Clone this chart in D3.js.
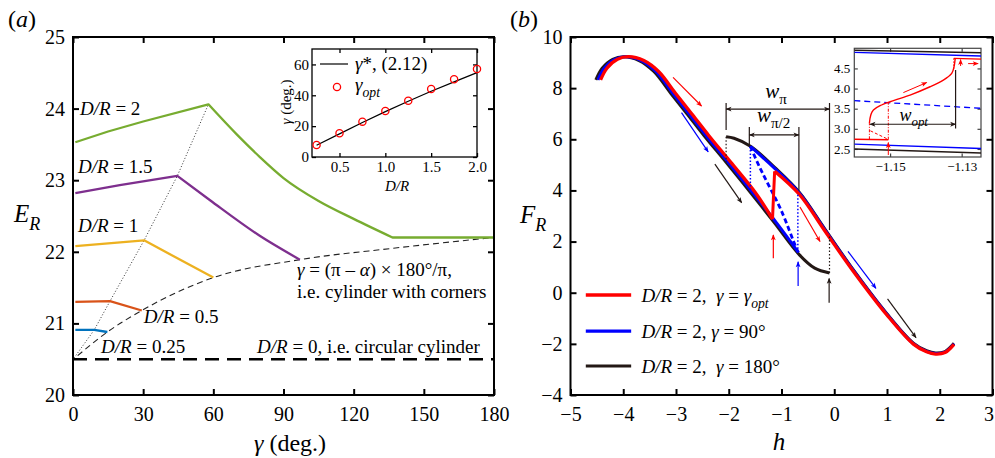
<!DOCTYPE html>
<html>
<head>
  <meta charset='utf-8'>
  <title>E_R versus gamma, F_R versus h</title>
  <script src='https://cdn.jsdelivr.net/npm/d3@7/dist/d3.min.js'></script>
  <style>
    body { margin: 0; background: #fff; }
    svg text { font-family: 'Liberation Serif', 'Times New Roman', 'DejaVu Serif', serif; fill: #000; }
  </style>
</head>
<body>
<svg id='chart' width='995' height='458'></svg>
<script>
// ---------- panel (a) data ----------
const gammaTicks = [0, 30, 60, 90, 120, 150, 180];
const erTicks = [20, 21, 22, 23, 24, 25];
const gam025 = [1, 9.1, 14.7];
const er025 = [20.91, 20.91, 20.88];
const gam05 = [1, 15.8, 29.4];
const er05 = [21.30, 21.31, 21.18];
const gam1 = [1, 30.4, 60];
const er1 = [22.08, 22.16, 21.64];
const gam15 = [1, 20, 44.6, 58.6, 80, 97];
const er15 = [22.82, 22.93, 23.06, 22.72, 22.22, 21.89];
const gam2 = [1, 15, 30, 57.9, 70, 80, 90, 105, 120, 136.6, 180];
const er2 = [23.53, 23.68, 23.82, 24.06, 23.64, 23.32, 23.03, 22.71, 22.46, 22.2, 22.2];
// index of the peak and of the start of the plateau for each D/R
const peakIdx = [1, 1, 1, 2, 3];
const plateauIdx = [null, null, null, null, 9];
const gamPeak = [0.5, 9.1, 15.8, 30.4, 44.6, 57.9];
const erPeak = [20.52, 20.91, 21.31, 22.16, 23.06, 24.06];
const gamCorner = [2, 14.7, 29.4, 60, 97, 137, 180];
const erCorner = [20.55, 20.88, 21.18, 21.64, 21.89, 22.05, 22.2];
const erCircle = 20.5;

// inset of (a)
const dOverR = [0.25, 0.5, 0.75, 1.0, 1.25, 1.5, 1.75, 2.0];
const gammaOpt = [7.8, 15.4, 22.9, 29.8, 36.5, 44.1, 50.4, 57.0];
const gammaStar = [7.6, 15.0, 22.4, 29.4, 36.1, 42.6, 48.7, 54.7];
const insetATicksX = [0.5, 1.0, 1.5, 2.0];
const insetATicksY = [0, 20, 40, 60];

// ---------- panel (b) data ----------
const hTicks = [-5, -4, -3, -2, -1, 0, 1, 2, 3];
const frTicks = [-4, -2, 0, 2, 4, 6, 8, 10];
const blackLowH = [-4.52, -4.4, -4.2, -3.99, -3.7, -3.42, -3.1, -2.8, -2.47, -2.05, -1.58, -1.13, -0.66, -0.37, -0.09];
const blackLowF = [8.32, 8.78, 9.13, 9.23, 9.08, 8.65, 7.8, 7.02, 6.15, 5.1, 3.9, 2.72, 1.48, 0.96, 0.77];
const blackUpH = [-2.05, -1.9, -1.58, -1.13, -0.66, -0.19, 0.36, 0.99, 1.5, 1.75, 1.92, 2.1, 2.27];
const blackUpF = [6.1, 6.04, 5.72, 4.9, 3.92, 2.53, 0.9, -0.8, -1.97, -2.27, -2.36, -2.3, -1.98];
const blueLowH = [-4.48, -4.36, -4.16, -3.95, -3.66, -3.38, -3.06, -2.76, -2.43, -2.01, -1.54, -1.09, -0.68];
const blueLowF = [8.32, 8.78, 9.13, 9.23, 9.08, 8.65, 7.8, 7.02, 6.15, 5.1, 3.9, 2.72, 1.58];
const blueUpH = [-1.59, -1.13, -0.66, -0.19, 0.36, 0.99, 1.5, 1.75, 1.92, 2.1, 2.27];
const blueUpF = [5.72, 4.86, 3.89, 2.5, 0.88, -0.82, -1.99, -2.29, -2.38, -2.32, -2.0];
const blueDashH = [-1.59, -1.42, -1.23, -1.01, -0.72, -0.68];
const blueDashF = [5.72, 4.93, 4.15, 3.24, 1.75, 1.58];
const redLowH = [-4.43, -4.31, -4.11, -3.9, -3.61, -3.33, -3.01, -2.71, -2.38, -1.96, -1.49, -1.17];
const redLowF = [8.32, 8.78, 9.13, 9.23, 9.08, 8.65, 7.8, 7.02, 6.15, 5.1, 3.9, 2.88];
const redJumpH = [-1.17, -1.165, -1.13];
const redJumpF = [2.88, 3.15, 4.75];
const redUpH = [-1.13, -0.66, -0.19, 0.36, 0.99, 1.5, 1.75, 1.92, 2.1, 2.27];
const redUpF = [4.75, 3.84, 2.45, 0.84, -0.85, -2.01, -2.31, -2.4, -2.34, -2.02];
// dotted jumps [h, F from, F to]
const blackJumps = [[-2.05, 6.1, 5.1], [-0.09, 0.77, 2.2]];
const blueJumps = [[-1.59, 5.72, 3.95], [-0.69, 1.58, 3.9]];
// widths: [h left, h right, F arrow, F top, left foot, right foot]
const wPi = [-2.05, -0.09, 7.18, 7.42, 6.36, 2.45];
const wPi2 = [-1.61, -0.67, 6.17, 6.48, 5.75, 4.0];
const arrowsB = [
  ['red', [-3.056, -2.516], [8.42, 7.30]],
  ['blue', [-2.896, -2.390], [7.04, 5.51]],
  ['black', [-2.263, -1.756], [5.03, 3.52]],
  ['red', [-0.65, -0.27], [3.35, 2.0]],
  ['blue', [0.26, 0.79], [1.62, 0.17]],
  ['black', [1.01, 1.55], [-0.24, -1.76]],
  ['red', [-1.155, -1.155], [1.35, 2.26]],
  ['blue', [-0.685, -0.685], [0.26, 1.21]],
  ['black', [-0.097, -0.097], [-0.39, 0.56]]
];

// inset of (b)
const insetBTicksX = [-1.15, -1.13];
const insetBTicksY = [2.5, 3.0, 3.5, 4.0, 4.5];
const inEdgeH = [-1.16, -1.1246];
const inBlackTop = [4.95, 4.89];
const inBlueTop = [4.90, 4.81];
const inBlackBot = [2.50, 2.40];
const inBlueBot = [2.62, 2.51];
const inBlueDash = [3.70, 3.51];
const inRedLowH = [-1.16, -1.1505];
const inRedLowF = [2.74, 2.73];
const inRedSH = [-1.15578, -1.15539, -1.15466, -1.15279, -1.15, -1.14442, -1.13884, -1.13512, -1.13278, -1.13214, -1.13186, -1.1318];
const inRedSF = [3.139, 3.344, 3.468, 3.574, 3.673, 3.839, 4.045, 4.21, 4.376, 4.54, 4.705, 4.75];
const inRedTopH = [-1.1322, -1.1246];
const inRedTopF = [4.75, 4.73];
const inArrows = [
  [[-1.1505, -1.1505], [2.35, 2.66]],
  [[-1.1303, -1.1303], [4.56, 4.72]],
  [[-1.1282, -1.1254], [4.62, 4.62]],
  [[-1.14629, -1.13976], [3.90, 4.15]]
];
const wOpt = [-1.1556, -1.1317, 3.114, 4.46];

// ---------- helpers ----------
const svg = d3.select('#chart');
const colA = ['#0072bd', '#d95319', '#edb120', '#7e2f8e', '#77ac30'];
const RED = '#ff0000', BLUE = '#0000ff', DARK = '#231815';
const arrowCol = {red: RED, blue: BLUE, black: DARK};

const defs = svg.append('defs');
Object.entries(arrowCol).forEach(([k, c]) => {
  defs.append('marker').attr('id', 'ah-' + k)
    .attr('viewBox', '0 0 10 10').attr('refX', 9).attr('refY', 5)
    .attr('markerWidth', 8).attr('markerHeight', 6)
    .attr('markerUnits', 'userSpaceOnUse').attr('orient', 'auto-start-reverse')
    .append('path').attr('d', 'M0,1 L10,5 L0,9 L2.5,5 Z').attr('fill', c);
});

function zip(a, b) { return a.map((v, i) => [v, b[i]]); }

function drawLine(g, xs, ys, x, y, curve) {
  return g.append('path').datum(zip(xs, ys))
    .attr('fill', 'none').attr('stroke-linejoin', 'round')
    .attr('d', d3.line().x(d => x(d[0])).y(d => y(d[1])).curve(curve || d3.curveLinear));
}

function drawAxes(x, y, o) {
  const g = svg.append('g');
  const [xl, xr] = x.range(), [yb, yt] = y.range();
  if (o.bg) g.append('rect').attr('x', xl).attr('y', yt).attr('width', xr - xl)
    .attr('height', yb - yt).attr('fill', '#fff');
  g.append('g').attr('class', 'xb').attr('transform', `translate(0,${yb})`)
    .call(d3.axisBottom(x).tickValues(o.xt).tickSize(-o.len).tickPadding(o.xpad).tickFormat(o.xf));
  g.append('g').attr('transform', `translate(0,${yt})`)
    .call(d3.axisTop(x).tickValues(o.xt).tickSize(-o.len).tickFormat(''));
  g.append('g').attr('transform', `translate(${xl},0)`)
    .call(d3.axisLeft(y).tickValues(o.yt).tickSize(-o.len).tickPadding(o.ypad).tickFormat(o.yf));
  g.append('g').attr('transform', `translate(${xr},0)`)
    .call(d3.axisRight(y).tickValues(o.yt).tickSize(-o.len).tickFormat(''));
  g.selectAll('.domain').remove();
  g.selectAll('.tick line').attr('stroke', o.col || '#000').attr('stroke-width', o.sw);
  g.selectAll('.tick text').attr('font-size', o.fs)
    .attr('font-family', "'Liberation Serif', 'Times New Roman', serif").attr('fill', '#000');
  g.append('rect').attr('x', xl).attr('y', yt).attr('width', xr - xl).attr('height', yb - yt)
    .attr('fill', 'none').attr('stroke', o.col || '#000').attr('stroke-width', o.sw);
  return g;
}

// rich text: parts = [[string, 'i' | 'sub' | 'isub' | '']]
function rich(g, x, y, parts, size, anchor) {
  const t = g.append('text').attr('x', x).attr('y', y).attr('font-size', size)
    .attr('text-anchor', anchor || 'start').style('white-space', 'pre');
  let shift = 0;
  parts.forEach(([s, k]) => {
    k = k || '';
    const sub = k.includes('sub');
    const target = sub ? size * 0.3 : 0;
    const ts = t.append('tspan').text(s).attr('dy', target - shift);
    shift = target;
    if (k.includes('i')) ts.attr('font-style', 'italic');
    if (sub) ts.attr('font-size', size * 0.72);
  });
  return t;
}

// ---------- panel (a) ----------
const xA = d3.scaleLinear().domain([0, 180]).range([73, 494]);
const yA = d3.scaleLinear().domain([20, 25]).range([395, 37]);
const gA = svg.append('g');

drawLine(gA, [0, 180], [erCircle, erCircle], xA, yA)
  .attr('stroke', '#000').attr('stroke-width', 2.6).attr('stroke-dasharray', '14,8');
drawLine(gA, gamPeak, erPeak, xA, yA)
  .attr('stroke', '#333').attr('stroke-width', 1).attr('stroke-dasharray', '1,2');
drawLine(gA, gamCorner, erCorner, xA, yA, d3.curveMonotoneX)
  .attr('stroke', '#222').attr('stroke-width', 1.1).attr('stroke-dasharray', '6,4');
[[gam025, er025], [gam05, er05], [gam1, er1], [gam15, er15], [gam2, er2]].forEach(([gs, es], i) => {
  // rising part straight, falling part smooth, plateau straight
  const p = peakIdx[i], q = plateauIdx[i] === null ? gs.length - 1 : plateauIdx[i];
  const line = d3.line().x(d => xA(d[0])).y(d => yA(d[1]));
  const pts = zip(gs, es);
  const d = line.curve(d3.curveLinear)(pts.slice(0, p + 1)) +
    line.curve(d3.curveMonotoneX)(pts.slice(p, q + 1)).replace(/^M/, 'L') +
    (q < gs.length - 1 ? line.curve(d3.curveLinear)(pts.slice(q)).replace(/^M/, 'L') : '');
  gA.append('path').attr('d', d).attr('fill', 'none').attr('stroke', colA[i])
    .attr('stroke-width', 2.3).attr('stroke-linejoin', 'round');
});

drawAxes(xA, yA, {xt: gammaTicks, yt: erTicks, len: 6, xpad: 12, ypad: 8, fs: 20, sw: 2,
  xf: d3.format('d'), yf: d3.format('d')});

const labelsA = [['2', 3.0, 23.91], ['1.5', 2.1, 23.10], ['1', 2.1, 22.28], ['0.5', 30.3, 21.0], ['0.25', 12.0, 20.59]];
labelsA.forEach(([v, g, e]) => {
  rich(gA, xA(g), yA(e), [['D/R', 'i'], [' = ' + v, '']], 19);
});
rich(gA, xA(78.7), yA(20.59), [['D/R', 'i'], [' = 0, i.e. circular cylinder', '']], 19);
rich(gA, xA(95.8), yA(21.66), [['\u03b3', 'i'], [' = (\u03c0 \u2013 ', ''], ['\u03b1', 'i'], [') \u00d7 180\u00b0/\u03c0,', '']], 19);
rich(gA, xA(95.8), yA(21.35), [['i.e. cylinder with corners', '']], 19);

rich(svg, 8, 27, [['(', ''], ['a', 'i'], [')', '']], 24);
rich(svg, 14, 222, [['E', 'i'], ['R', 'isub']], 25);
rich(svg, 290, 451, [['\u03b3', 'i'], [' (deg.)', '']], 24, 'middle');

// inset (a)
const xI = d3.scaleLinear().domain([0.2, 2.0]).range([312, 477]);
const yI = d3.scaleLinear().domain([0, 70]).range([157, 49]);
drawAxes(xI, yI, {xt: insetATicksX, yt: insetATicksY, len: 4, xpad: 4, ypad: 3, fs: 15, sw: 1.3,
  xf: d3.format('.1f'), yf: d3.format('d'), bg: true});
const gI = svg.append('g');
drawLine(gI, dOverR, gammaStar, xI, yI).attr('stroke', '#000').attr('stroke-width', 1.2);
gI.selectAll('circle.opt').data(zip(dOverR, gammaOpt)).join('circle')
  .attr('cx', d => xI(d[0])).attr('cy', d => yI(d[1])).attr('r', 3.6)
  .attr('fill', 'none').attr('stroke', RED).attr('stroke-width', 1.3);
gI.append('line').attr('x1', 320).attr('x2', 348).attr('y1', 64).attr('y2', 64)
  .attr('stroke', '#000').attr('stroke-width', 1.2);
rich(gI, 355, 70, [['\u03b3', 'i'], ['*, (2.12)', '']], 19);
gI.append('circle').attr('cx', 337).attr('cy', 87).attr('r', 3.6)
  .attr('fill', 'none').attr('stroke', RED).attr('stroke-width', 1.3);
rich(gI, 355, 91, [['\u03b3', 'i'], ['opt', 'isub']], 19);
rich(gI, 397, 191, [['D/R', 'i']], 15, 'middle');
rich(gI.append('g').attr('transform', 'translate(291,102) rotate(-90)'), 0, 0,
  [['\u03b3', 'i'], [' (deg.)', '']], 15, 'middle');

// ---------- panel (b) ----------
const xB = d3.scaleLinear().domain([-5, 3]).range([570.5, 992.5]);
const yB = d3.scaleLinear().domain([-4, 10]).range([395, 37]);
const gB = svg.append('g');
const smooth = d3.curveCatmullRom.alpha(0.5);

drawLine(gB, blackLowH, blackLowF, xB, yB, smooth).attr('stroke', DARK).attr('stroke-width', 3);
drawLine(gB, blackUpH, blackUpF, xB, yB, smooth).attr('stroke', DARK).attr('stroke-width', 3);
drawLine(gB, blueLowH, blueLowF, xB, yB, smooth).attr('stroke', BLUE).attr('stroke-width', 3);
drawLine(gB, blueUpH, blueUpF, xB, yB, smooth).attr('stroke', BLUE).attr('stroke-width', 3);
drawLine(gB, blueDashH, blueDashF, xB, yB, smooth).attr('stroke', BLUE).attr('stroke-width', 2.8)
  .attr('stroke-dasharray', '5,3');
drawLine(gB, redLowH, redLowF, xB, yB, smooth).attr('stroke', RED).attr('stroke-width', 3.3);
drawLine(gB, redJumpH, redJumpF, xB, yB).attr('stroke', RED).attr('stroke-width', 3);
drawLine(gB, redUpH, redUpF, xB, yB, smooth).attr('stroke', RED).attr('stroke-width', 3.3);

blackJumps.forEach(([h, f0, f1]) => {
  drawLine(gB, [h, h], [f0, f1], xB, yB).attr('stroke', DARK).attr('stroke-width', 1.2)
    .attr('stroke-dasharray', '1.5,2');
});
blueJumps.forEach(([h, f0, f1]) => {
  drawLine(gB, [h, h], [f0, f1], xB, yB).attr('stroke', BLUE).attr('stroke-width', 1.5)
    .attr('stroke-dasharray', '1.5,2');
});

[wPi, wPi2].forEach(([h0, h1, fa, ft, f0, f1]) => {
  drawLine(gB, [h0, h0], [ft, f0], xB, yB).attr('stroke', DARK).attr('stroke-width', 1.2);
  drawLine(gB, [h1, h1], [ft, f1], xB, yB).attr('stroke', DARK).attr('stroke-width', 1.2);
  drawLine(gB, [h0, h1], [fa, fa], xB, yB).attr('stroke', DARK).attr('stroke-width', 1.2)
    .attr('marker-start', 'url(#ah-black)').attr('marker-end', 'url(#ah-black)');
});
rich(gB, xB(-1.31), yB(7.61), [['w', 'i'], ['\u03c0', 'sub']], 21);
rich(gB, xB(-1.465), yB(6.68), [['w', 'i'], ['\u03c0/2', 'sub']], 21);

arrowsB.forEach(([c, hs, fs]) => {
  drawLine(gB, hs, fs, xB, yB).attr('stroke', arrowCol[c]).attr('stroke-width', 1.2)
    .attr('marker-end', `url(#ah-${c})`);
});

const axB = drawAxes(xB, yB, {xt: hTicks, yt: frTicks, len: 6, xpad: 12, ypad: 8, fs: 20, sw: 2});
// last h label sits at the window edge: nudge it inside
axB.select('.xb').selectAll('.tick text').filter(d => d === 3).attr('dx', -4);

// legend (b)
const legB = [
  [RED, 3.5, -0.09, [['D/R', 'i'], [' = 2,  ', ''], ['\u03b3', 'i'], [' = ', ''], ['\u03b3', 'i'], ['opt', 'isub']]],
  [BLUE, 3.2, -1.50, [['D/R', 'i'], [' = 2, ', ''], ['\u03b3', 'i'], [' = 90\u00b0', '']]],
  [DARK, 3, -2.87, [['D/R', 'i'], [' = 2,  ', ''], ['\u03b3', 'i'], [' = 180\u00b0', '']]]
];
legB.forEach(([c, w, f, parts]) => {
  drawLine(gB, [-4.71, -3.85], [f, f], xB, yB).attr('stroke', c).attr('stroke-width', w);
  rich(gB, xB(-3.656), yB(f) + 7, parts, 19);
});

rich(svg, 510, 27, [['(', ''], ['b', 'i'], [')', '']], 24);
rich(svg, 520, 223, [['F', 'i'], ['R', 'isub']], 25);
rich(svg, 779, 450, [['h', 'i']], 25, 'middle');

// inset (b)
const xJ = d3.scaleLinear().domain([-1.16, -1.1246]).range([854.3, 981]);
const yJ = d3.scaleLinear().domain([2.3, 5.0]).range([157, 48.3]);
drawAxes(xJ, yJ, {xt: insetBTicksX, yt: insetBTicksY, len: 3.5, xpad: 5, ypad: 4, fs: 13,
  sw: 1.2, col: '#444', xf: d3.format('.2f'), yf: d3.format('.1f'), bg: true});
defs.append('clipPath').attr('id', 'clipJ').append('rect')
  .attr('x', 854.3).attr('y', 48.3).attr('width', 981 - 854.3).attr('height', 157 - 48.3);
const gJ = svg.append('g').attr('clip-path', 'url(#clipJ)');
drawLine(gJ, inEdgeH, inBlackTop, xJ, yJ).attr('stroke', DARK).attr('stroke-width', 1.4);
drawLine(gJ, inEdgeH, inBlueTop, xJ, yJ).attr('stroke', BLUE).attr('stroke-width', 1.4);
drawLine(gJ, inEdgeH, inBlackBot, xJ, yJ).attr('stroke', DARK).attr('stroke-width', 1.4);
drawLine(gJ, inEdgeH, inBlueBot, xJ, yJ).attr('stroke', BLUE).attr('stroke-width', 1.4);
drawLine(gJ, inEdgeH, inBlueDash, xJ, yJ).attr('stroke', BLUE).attr('stroke-width', 1.3)
  .attr('stroke-dasharray', '6,4');
drawLine(gJ, inRedLowH, inRedLowF, xJ, yJ).attr('stroke', RED).attr('stroke-width', 1.4);
drawLine(gJ, inRedSH, inRedSF, xJ, yJ, d3.curveMonotoneY).attr('stroke', RED).attr('stroke-width', 1.4);
drawLine(gJ, inRedTopH, inRedTopF, xJ, yJ).attr('stroke', RED).attr('stroke-width', 1.4);
drawLine(gJ, [inRedSH[0], inRedSH[0]], [inRedLowF[0], inRedSF[0]], xJ, yJ).attr('stroke', RED)
  .attr('stroke-width', 1).attr('stroke-dasharray', '3,1.5,1,1.5');
drawLine(gJ, [inRedLowH[1], inRedLowH[1]], [inRedLowF[1], 3.65], xJ, yJ).attr('stroke', RED)
  .attr('stroke-width', 1).attr('stroke-dasharray', '3,1.5,1,1.5');
drawLine(gJ, [-1.1555, -1.1508], [2.95, 2.75], xJ, yJ).attr('stroke', RED)
  .attr('stroke-width', 1).attr('stroke-dasharray', '3,2');
drawLine(gJ, [inRedTopH[0], inRedTopH[0]], [inRedTopF[0], 4.45], xJ, yJ).attr('stroke', RED)
  .attr('stroke-width', 1).attr('stroke-dasharray', '1.5,1.5');
inArrows.forEach(([hs, fs]) => {
  drawLine(gJ, hs, fs, xJ, yJ).attr('stroke', RED).attr('stroke-width', 1)
    .attr('marker-end', 'url(#ah-red)');
});
drawLine(gJ, [wOpt[1], wOpt[1]], [wOpt[3], 3.01], xJ, yJ).attr('stroke', DARK).attr('stroke-width', 1.2);
drawLine(gJ, [wOpt[0], wOpt[1]], [wOpt[2], wOpt[2]], xJ, yJ).attr('stroke', DARK).attr('stroke-width', 1.1)
  .attr('marker-start', 'url(#ah-black)').attr('marker-end', 'url(#ah-black)');
rich(gJ, xJ(-1.1474), yJ(3.196), [['w', 'i'], ['opt', 'isub']], 18);
</script>
</body>
</html>
